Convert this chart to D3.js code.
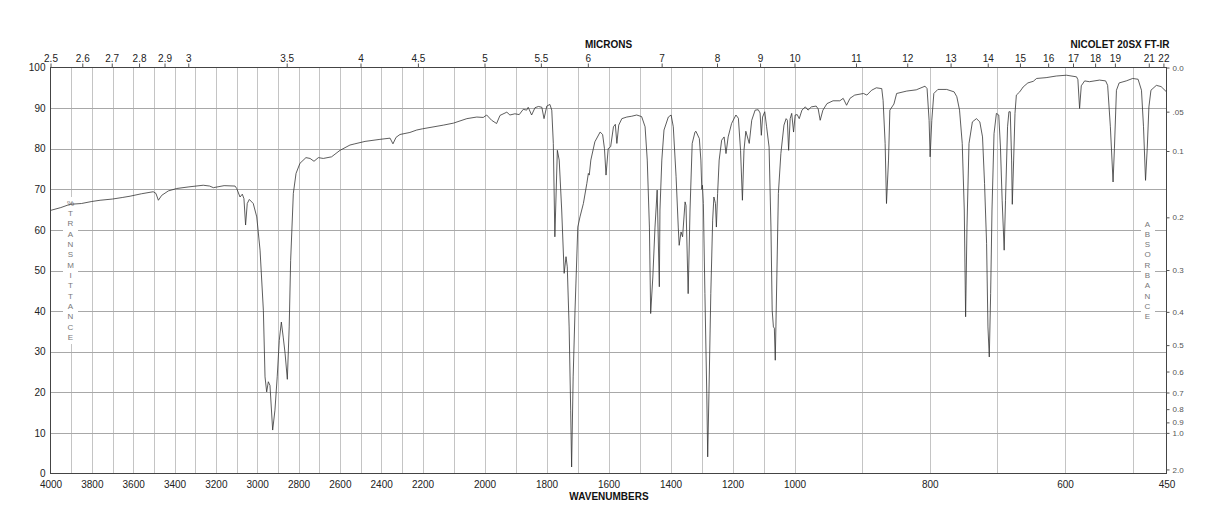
<!DOCTYPE html>
<html>
<head>
<meta charset="utf-8">
<script src="https://cdn.jsdelivr.net/npm/d3@7"></script>
<style>
  body { margin: 0; background: #fff; }
  svg { display: block; font-family: "Liberation Sans", Arial, Helvetica, sans-serif; }
</style>
</head>
<body>
<svg></svg>
<script>
const size = {w: 1218, h: 528};

// ---- data ----
// spectrum: wavenumber (cm-1) and % transmittance
const wavenumbers = [4000,3950,3906,3850,3800,3760,3700,3650,3615,3560,3503,3490,3478,3462,3430,3389,3330,3261,3230,3212,3160,3107,3099,3083,3072,3064,3056,3048,3038,3019,3002,2986,2970,2962,2954,2946,2938,2925,2914,2903,2893,2883,2874,2865,2854,2845,2838,2825,2812,2793,2764,2744,2725,2704,2680,2640,2599,2551,2527,2478,2406,2357,2343,2328,2309,2261,2228,2200,2133,2100,2057,2025,2004,1993,1977,1961,1950,1928,1918,1902,1888,1875,1864,1859,1848,1837,1826,1815,1808,1799,1789,1783,1778,1773,1765,1759,1751,1743,1737,1733,1727,1722,1719,1714,1708,1699,1692,1681,1670,1665,1662,1657,1644,1627,1619,1613,1608,1601,1593,1584,1578,1573,1567,1557,1541,1525,1509,1493,1482,1475,1468,1464,1457,1450,1443,1436,1434,1428,1421,1407,1398,1391,1382,1375,1372,1366,1361,1353,1350,1343,1337,1330,1321,1318,1307,1302,1299,1297,1294,1289,1283,1280,1276,1270,1264,1260,1255,1252,1248,1243,1235,1227,1221,1214,1203,1189,1181,1174,1168,1163,1157,1146,1138,1127,1117,1111,1107,1103,1096,1090,1082,1076,1072,1068,1065,1062,1057,1052,1044,1034,1027,1023,1019,1014,1009,1003,999,996,993,989,984,980,975,968,965,962,958,952,943,933,928,923,918,911,898,893,886,879,871,869,866,864,861,859,855,853,849,834,820,807,804,801,799.5,797,794,788,775,764,760,756,752,749,747,745,742,737,731,726,722,719,716,714,712,710,708,705,701.5,698,695.5,693,690,688,685,683,681,679,678,676,674,672,667,662,655,647,642,628,613,598,583,581,578.5,576,571,564,549,540,537,533,529,527,524,520,509.5,500,492,487,484,481,478.5,476,473,465,458,450];
const transmittance = [64.8,65.5,66.3,66.5,67.0,67.3,67.6,68.0,68.3,68.9,69.4,69.0,67.3,68.5,69.6,70.2,70.6,71.0,70.8,70.4,70.9,70.8,70.2,68.1,68.8,67.7,61.2,66.5,67.5,66.5,63.2,55.0,40.2,23.8,20.1,22.6,21.7,10.7,15.6,23.8,32.8,37.3,33.6,29.6,23.2,36.1,52.5,69.0,73.9,76.4,77.8,77.6,76.9,77.8,77.6,78.0,79.6,80.9,81.2,81.8,82.3,82.6,81.2,82.8,83.5,84.0,84.6,84.9,85.8,86.3,87.4,87.8,87.7,88.3,87.0,86.2,88.2,89.0,88.3,88.6,88.4,89.7,89.5,90.2,88.3,90.1,90.4,90.2,87.4,90.5,90.9,89.5,81.3,58.3,79.6,77.2,64.9,49.3,53.4,50.9,36.1,15.6,1.6,23.8,40.2,60.7,63.2,66.5,71.4,73.9,73.5,77.2,81.7,84.1,83.5,80.0,73.5,80.0,80.5,85.4,86.0,81.3,85.8,87.4,87.8,88.0,88.3,87.9,85.4,77.2,60.7,39.4,48.4,60.7,69.8,46.0,64.9,77.2,84.6,87.8,88.3,85.4,73.1,60.7,56.2,59.5,58.3,66.9,66.0,44.3,64.9,81.3,84.1,84.3,82.5,77.2,70.0,71.0,66.5,44.3,19.7,4.1,19.7,44.3,62.4,68.1,66.5,60.7,69.0,77.2,82.1,82.9,78.8,82.9,86.2,88.3,87.5,79.6,67.3,79.6,84.3,81.3,87.0,89.5,89.6,88.8,83.3,87.8,89.1,85.4,80.4,60.7,40.2,36.1,35.8,27.9,48.4,69.0,78.8,85.8,87.4,87.0,79.6,87.4,88.7,84.1,88.3,88.4,87.4,89.5,90.3,89.5,90.3,90.5,89.8,87.0,89.5,91.1,91.8,91.8,92.4,90.7,92.4,93.2,93.6,93.2,94.4,95.0,94.8,91.9,81.3,66.5,77.2,89.5,90.5,91.0,93.6,94.2,94.5,95.4,94.8,87.0,78.0,87.0,93.6,94.6,94.6,94.0,92.8,89.5,81.3,64.9,38.6,60.7,81.3,86.6,87.4,86.6,82.9,71.4,56.7,36.1,28.7,44.3,64.9,83.7,88.7,88.3,80.4,67.3,55.0,67.3,85.4,89.1,89.1,77.2,66.3,77.2,88.7,93.2,94.0,95.2,96.2,96.6,97.3,97.5,97.9,98.1,97.7,97.0,89.9,95.5,96.7,96.5,96.9,96.7,95.6,85.4,71.8,80.0,94.4,96.2,96.7,97.3,97.1,94.4,85.4,72.2,80.0,90.3,94.4,95.6,95.3,94.0];

// axis labels
const waveTicks = [4000,3800,3600,3400,3200,3000,2800,2600,2400,2200,2000,1800,1600,1400,1200,1000,800,600,450];
const micronLabels = ['2.5','2.6','2.7','2.8','2.9','3','3.5','4','4.5','5','5.5','6','7','8','9','10','11','12','13','14','15','16','17','18','19','21','22'];
const absorbLabels = ['0.0','.05','0.1','0.2','0.3','0.4','0.5','0.6','0.7','0.8','0.9','1.0','2.0'];
const transTicks = [0,10,20,30,40,50,60,70,80,90,100];

const spectrum = wavenumbers.map((w, i) => ({wn: w, t: transmittance[i]}));

const svg = d3.select('svg').attr('width', size.w).attr('height', size.h);

// piecewise wavenumber scale (chart changes scale at 2200 and 1000)
const x = d3.scaleLinear()
    .domain([4000, 2200, 1000, 450])
    .range([50.5, 422.5, 794.5, 1166.5]);
const y = d3.scaleLinear()
    .domain([0, 100])
    .range([473.5, 67.5]);

// ---- grid ----
const gridG = svg.append('g').attr('shape-rendering', 'crispEdges');
gridG.selectAll('line.v')
    .data(d3.range(3900, 450, -100))
    .join('line')
    .attr('x1', d => Math.round(x(d)) + 0.5).attr('x2', d => Math.round(x(d)) + 0.5)
    .attr('y1', y(100)).attr('y2', y(0))
    .attr('stroke', '#c4c4c4');
gridG.selectAll('line.h')
    .data(d3.range(10, 100, 10))
    .join('line')
    .attr('x1', x(4000)).attr('x2', x(450))
    .attr('y1', d => Math.round(y(d)) + 0.5).attr('y2', d => Math.round(y(d)) + 0.5)
    .attr('stroke', '#a8a8a8');

// white strips behind the vertical words
svg.append('rect').attr('x', 63).attr('y', 197).attr('width', 15).attr('height', 147).attr('fill', '#fff');
svg.append('rect').attr('x', 1141).attr('y', 217).attr('width', 14).attr('height', 107).attr('fill', '#fff');

svg.append('g').selectAll('text')
    .data('%TRANSMITTANCE'.split(''))
    .join('text')
    .attr('x', 70.5).attr('y', (d, i) => 203 + i * 10.35)
    .attr('text-anchor', 'middle').attr('dominant-baseline', 'central')
    .attr('font-size', 8).attr('fill', '#777')
    .text(d => d);
svg.append('g').selectAll('text')
    .data('ABSORBANCE'.split(''))
    .join('text')
    .attr('x', 1147.5).attr('y', (d, i) => 224 + i * 10.33)
    .attr('text-anchor', 'middle').attr('dominant-baseline', 'central')
    .attr('font-size', 8).attr('fill', '#777')
    .text(d => d);

// ---- spectrum ----
const line = d3.line().x(d => x(d.wn)).y(d => y(d.t));
svg.append('path')
    .datum(spectrum)
    .attr('d', line)
    .attr('fill', 'none')
    .attr('stroke', '#333')
    .attr('stroke-width', 0.8)
    .attr('stroke-linejoin', 'round');

// ---- frame ----
svg.append('rect')
    .attr('x', x(4000)).attr('y', y(100))
    .attr('width', x(450) - x(4000)).attr('height', y(0) - y(100))
    .attr('fill', 'none').attr('stroke', '#444').attr('shape-rendering', 'crispEdges');

// ---- axes ----
function styleAxis(g, size, color) {
    g.select('.domain').remove();
    g.selectAll('text').attr('font-size', size).attr('fill', color)
        .attr('font-family', '"Liberation Sans", Arial, Helvetica, sans-serif');
    g.selectAll('line').attr('stroke', '#555');
}

svg.append('g')
    .attr('transform', `translate(0,${y(0)})`)
    .call(d3.axisBottom(x).tickValues(waveTicks).tickSize(0).tickPadding(7).tickFormat(d3.format('d')))
    .call(g => styleAxis(g, 10, '#222'));

svg.append('g')
    .attr('transform', `translate(0,${y(100)})`)
    .call(d3.axisTop(x).tickValues(micronLabels.map(m => 10000 / +m)).tickSize(4).tickPadding(2)
        .tickFormat((d, i) => micronLabels[i]))
    .call(g => styleAxis(g, 10, '#222'));

svg.append('g')
    .attr('transform', `translate(${x(4000)},0)`)
    .call(d3.axisLeft(y).tickValues(transTicks).tickSize(0).tickPadding(5))
    .call(g => styleAxis(g, 10, '#222'));

svg.append('g')
    .attr('transform', `translate(${x(450)},0)`)
    .call(d3.axisRight(y).tickValues(absorbLabels.map(a => 100 * Math.pow(10, -(+a)))).tickSize(3).tickPadding(3)
        .tickFormat((d, i) => absorbLabels[i]))
    .call(g => styleAxis(g, 8, '#555'));

// ---- titles ----
svg.append('text').attr('x', 608.5).attr('y', 48.3).attr('text-anchor', 'middle')
    .attr('font-size', 10).attr('font-weight', 'bold').attr('fill', '#111').text('MICRONS');
svg.append('text').attr('x', 1169.5).attr('y', 48.3).attr('text-anchor', 'end')
    .attr('font-size', 10).attr('font-weight', 'bold').attr('fill', '#111').text('NICOLET 20SX FT-IR');
svg.append('text').attr('x', 609).attr('y', 500).attr('text-anchor', 'middle')
    .attr('font-size', 10).attr('font-weight', 'bold').attr('fill', '#111').text('WAVENUMBERS');
</script>
</body>
</html>
